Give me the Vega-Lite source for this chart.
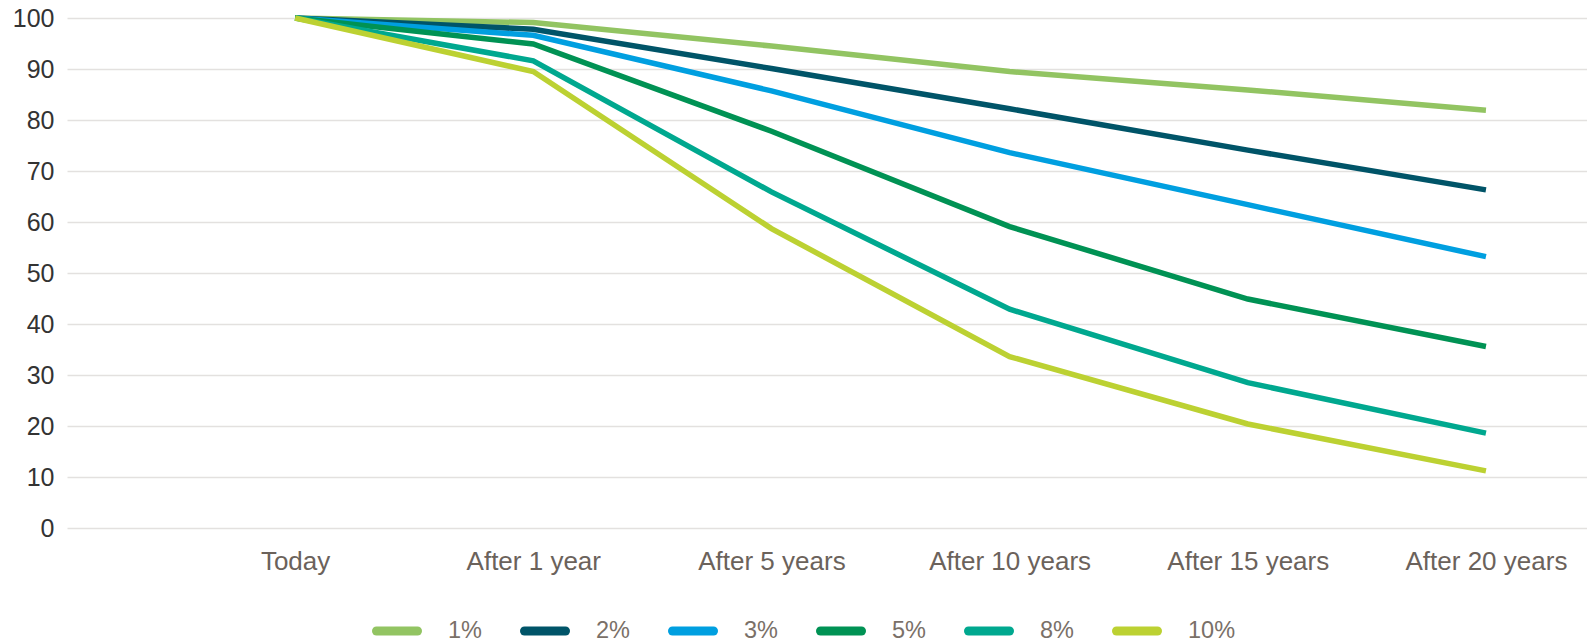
{
  "$schema": "https://vega.github.io/schema/vega-lite/v6.json",
  "width": 1520,
  "height": 510,
  "autosize": {"type": "none"},
  "padding": {"left": 67, "top": 18, "right": 0, "bottom": 115},
  "background": "white",
  "config": {
    "view": {"stroke": null},
    "font": "Liberation Sans"
  },
  "data": {
    "values": [
      {"period": "Today", "rate": "1%", "value": 100},
      {"period": "After 1 year", "rate": "1%", "value": 99.1},
      {"period": "After 5 years", "rate": "1%", "value": 94.5},
      {"period": "After 10 years", "rate": "1%", "value": 89.5},
      {"period": "After 15 years", "rate": "1%", "value": 85.9},
      {"period": "After 20 years", "rate": "1%", "value": 81.9},
      {"period": "Today", "rate": "2%", "value": 100},
      {"period": "After 1 year", "rate": "2%", "value": 97.8},
      {"period": "After 5 years", "rate": "2%", "value": 90.1},
      {"period": "After 10 years", "rate": "2%", "value": 82.2},
      {"period": "After 15 years", "rate": "2%", "value": 74.1},
      {"period": "After 20 years", "rate": "2%", "value": 66.3},
      {"period": "Today", "rate": "3%", "value": 100},
      {"period": "After 1 year", "rate": "3%", "value": 96.6},
      {"period": "After 5 years", "rate": "3%", "value": 85.7},
      {"period": "After 10 years", "rate": "3%", "value": 73.6},
      {"period": "After 15 years", "rate": "3%", "value": 63.4},
      {"period": "After 20 years", "rate": "3%", "value": 53.2},
      {"period": "Today", "rate": "5%", "value": 100},
      {"period": "After 1 year", "rate": "5%", "value": 94.9},
      {"period": "After 5 years", "rate": "5%", "value": 77.8},
      {"period": "After 10 years", "rate": "5%", "value": 59.1},
      {"period": "After 15 years", "rate": "5%", "value": 44.9},
      {"period": "After 20 years", "rate": "5%", "value": 35.6},
      {"period": "Today", "rate": "8%", "value": 100},
      {"period": "After 1 year", "rate": "8%", "value": 91.6},
      {"period": "After 5 years", "rate": "8%", "value": 65.9},
      {"period": "After 10 years", "rate": "8%", "value": 42.9},
      {"period": "After 15 years", "rate": "8%", "value": 28.5},
      {"period": "After 20 years", "rate": "8%", "value": 18.6},
      {"period": "Today", "rate": "10%", "value": 100},
      {"period": "After 1 year", "rate": "10%", "value": 89.5},
      {"period": "After 5 years", "rate": "10%", "value": 58.7},
      {"period": "After 10 years", "rate": "10%", "value": 33.6},
      {"period": "After 15 years", "rate": "10%", "value": 20.4},
      {"period": "After 20 years", "rate": "10%", "value": 11.2}
    ]
  },
  "mark": {"type": "line", "strokeWidth": 5.5, "strokeCap": "butt", "strokeJoin": "miter"},
  "encoding": {
    "x": {
      "field": "period",
      "type": "ordinal",
      "sort": ["Today", "After 1 year", "After 5 years", "After 10 years", "After 15 years", "After 20 years"],
      "scale": {"type": "point", "padding": 0.691, "align": 0.693},
      "axis": {
        "title": null,
        "domain": false,
        "ticks": false,
        "grid": false,
        "labelAngle": 0,
        "labelFontSize": 26,
        "labelColor": "#6b625b",
        "labelPadding": 20
      }
    },
    "y": {
      "field": "value",
      "type": "quantitative",
      "scale": {"domain": [0, 100], "nice": false, "zero": true},
      "axis": {
        "title": null,
        "domain": false,
        "ticks": false,
        "values": [0, 10, 20, 30, 40, 50, 60, 70, 80, 90, 100],
        "grid": true,
        "gridColor": "#e3e1df",
        "gridWidth": 1.5,
        "labelFontSize": 25,
        "labelColor": "#333333",
        "labelPadding": 13
      }
    },
    "color": {
      "field": "rate",
      "type": "nominal",
      "sort": ["1%", "2%", "3%", "5%", "8%", "10%"],
      "scale": {
        "domain": ["1%", "2%", "3%", "5%", "8%", "10%"],
        "range": ["#92c462", "#005468", "#009fe0", "#009254", "#00a88f", "#bcd132"]
      },
      "legend": {
        "title": null,
        "orient": "none",
        "direction": "horizontal",
        "legendX": 305,
        "legendY": 588,
        "symbolType": "stroke",
        "symbolSize": 1681,
        "symbolStrokeWidth": 9,
        "labelFontSize": 23.5,
        "labelColor": "#7a7068",
        "labelOffset": 26,
        "labelBaseline": "middle",
        "columnPadding": 24,
        "encode": {"symbols": {"update": {"strokeCap": {"value": "round"}}}}
      }
    }
  }
}
